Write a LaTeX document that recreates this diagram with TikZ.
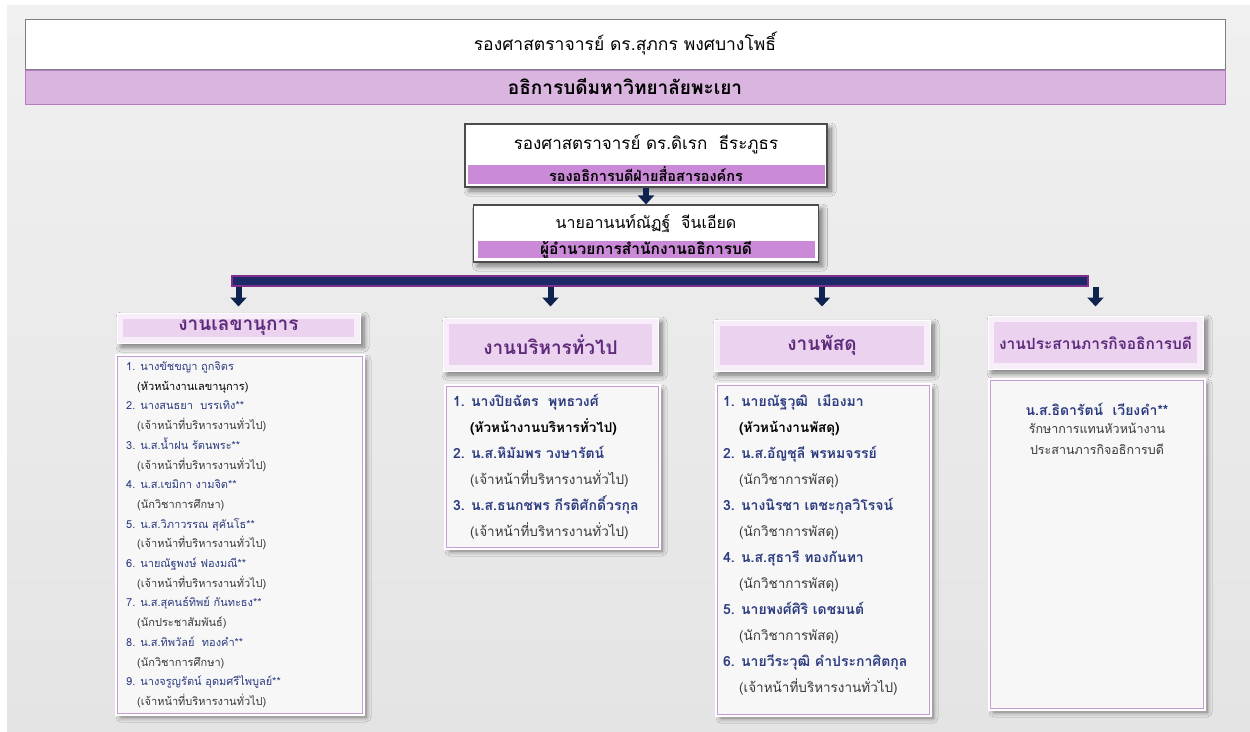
\documentclass[tikz,border=0pt]{standalone}
\usepackage{fontspec}
\newfontfamily\thaifont[Script=Thai]{Loma}
\usetikzlibrary{positioning,arrows.meta,shadows,shadows.blur}

\definecolor{bgtop}{HTML}{F0F0F0}
\definecolor{bgbot}{HTML}{E4E4E4}
\definecolor{bandlight}{HTML}{D9B5DF}
\definecolor{bandline}{HTML}{B57BC4}
\definecolor{bandmid}{HTML}{CB8AD7}
\definecolor{barnavy}{HTML}{1E2A68}
\definecolor{barline}{HTML}{7E2F8E}
\definecolor{arrownavy}{HTML}{0F2250}
\definecolor{hdrouter}{HTML}{F8EEFA}
\definecolor{hdrinner}{HTML}{EBD3F0}
\definecolor{hdrtext}{HTML}{5E2A7C}
\definecolor{namecol}{HTML}{2D3C80}
\definecolor{jobcol}{HTML}{3A3A3A}
\definecolor{listline}{HTML}{C79BD3}
\definecolor{listfill}{HTML}{F7F7F7}

\tikzset{
    softshadow/.style = {
        blur shadow={shadow blur steps=8, shadow xshift=4pt,
        shadow yshift=-4pt, shadow opacity=50, shadow blur radius=5pt}
    },
    rectorbox/.style = {
        draw=black!50,
        fill=white,
        line width=1pt,
        font=\thaifont\fontsize{17.5}{20}\selectfont
    },
    rectorband/.style = {
        draw=bandline,
        fill=bandlight,
        line width=1pt,
        font=\thaifont\bfseries\fontsize{19}{22}\selectfont
    },
    deanbox/.style = {
        draw=black!70,
        fill=white,
        line width=1.2pt,
        softshadow
    },
    deanname/.style = {
        inner sep=0pt,
        font=\thaifont\fontsize{17}{20}\selectfont
    },
    rankband/.style = {
        fill=bandmid,
        inner sep=0pt,
        font=\thaifont\bfseries\fontsize{14.5}{16}\selectfont
    },
    linkbar/.style = {
        draw=barline,
        fill=barnavy,
        line width=1.2pt,
        inner sep=0pt
    },
    fatarrow/.style = {
        draw=arrownavy,
        line width=6pt,
        -{Triangle[width=16pt, length=9pt]}
    },
    unithead/.style = {
        draw=white,
        fill=hdrouter,
        line width=1pt,
        softshadow,
        text=hdrtext,
        font=\thaifont\bfseries\fontsize{19}{22}\selectfont,
        path picture={
            \fill[hdrinner] ([shift={(6pt,-6pt)}]path picture bounding box.north west)
            rectangle ([shift={(-6pt,6pt)}]path picture bounding box.south east);
        }
    },
    listbox/.style = {
        draw=listline,
        fill=listfill,
        line width=1pt,
        softshadow,
        preaction={draw=white, line width=5pt}
    },
    smallwho/.style = {
        anchor=west, inner sep=0pt, text height=8pt, text depth=3pt,
        text=namecol, font=\thaifont\fontsize{11}{13}\selectfont
    },
    smalljob/.style = {
        anchor=west, inner sep=0pt, text height=8pt, text depth=3pt,
        text=jobcol, font=\thaifont\fontsize{11}{13}\selectfont
    },
    bigwho/.style = {
        anchor=west, inner sep=0pt, text height=11pt, text depth=4pt,
        text=namecol, font=\thaifont\bfseries\fontsize{14}{17}\selectfont
    },
    bigjob/.style = {
        anchor=west, inner sep=0pt, text height=11pt, text depth=4pt,
        text=jobcol, font=\thaifont\fontsize{13.5}{16}\selectfont
    },
}

\begin{document}
\begin{tikzpicture}[x=1pt, y=-1pt]
    \useasboundingbox (0,0) rectangle (1250,731);
    \fill[white] (0,0) rectangle (1250,731);
    \shade[top color=bgtop, bottom color=bgbot] (7,5) rectangle (1250,731);

    % top of the chart
    \node[rectorbox, minimum width=1200pt, minimum height=50pt] (rector) at (625,44)
        {รองศาสตราจารย์ ดร.สุภกร พงศบางโพธิ์};
    \node[rectorband, minimum width=1200pt, minimum height=34pt, below=0pt of rector]
        (rectorpos) {อธิการบดีมหาวิทยาลัยพะเยา};

    \node[deanbox, minimum width=362pt, minimum height=63pt] (vice) at (646,155.5) {};
    \node[deanname] (vicename) at (646,144) {รองศาสตราจารย์ ดร.ดิเรก~ ธีระภูธร};
    \node[rankband, minimum width=357pt, minimum height=19pt] (vicepos) at (646,174.5)
        {รองอธิการบดีฝ่ายสื่อสารองค์กร};

    \node[deanbox, minimum width=345pt, minimum height=57pt] (director) at (646,233.5) {};
    \node[deanname, font=\thaifont\fontsize{16}{19}\selectfont] (dirname) at (646,224)
        {นายอานนท์ณัฏฐ์~ จีนเอียด};
    \node[rankband, minimum width=337pt, minimum height=17pt, font=\thaifont\bfseries\fontsize{15.5}{17}\selectfont]
        (dirpos) at (646,249.5) {ผู้อำนวยการสำนักงานอธิการบดี};

    \draw[fatarrow] (vice) -- (director);

    \node[linkbar, minimum width=856pt, minimum height=10pt] (bar) at (660,281) {};

    % units
    \node[unithead, minimum width=243pt, minimum height=30pt] (hdr1) at (238.5,328) {งานเลขานุการ};
    \node[unithead, minimum width=215pt, minimum height=53pt] (hdr2) at (550.5,344.5) {งานบริหารทั่วไป};
    \node[unithead, minimum width=216pt, minimum height=51pt] (hdr3) at (822,345.5) {งานพัสดุ};
    \node[unithead, minimum width=215pt, minimum height=53pt, font=\thaifont\bfseries\fontsize{15.5}{18}\selectfont]
        (hdr4) at (1095.5,342.5) {งานประสานภารกิจอธิการบดี};

    \foreach \h/\s in {hdr1/6,hdr2/11,hdr3/13,hdr4/9}
        \draw[fatarrow, shorten >=\s pt] (bar.south -| \h.north) -- (\h.north);

    \node[listbox, minimum width=245pt, minimum height=357pt] (list1) at (239.5,534.5) {};
    \node[listbox, minimum width=212pt, minimum height=161pt] (list2) at (552,466.5) {};
    \node[listbox, minimum width=212pt, minimum height=329pt] (list3) at (823,549.5) {};
    \node[listbox, minimum width=213pt, minimum height=328pt] (list4) at (1096.5,544) {};

    % staff of each unit
    \foreach \who/\job [count=\i from 0] in {
        1. นางขัชขญา ถูกจิตร/{\color{black}(หัวหน้างานเลขานุการ)},
        2. นางสนธยา~ บรรเทิง**/(เจ้าหน้าที่บริหารงานทั่วไป),
        3. น.ส.น้ำฝน รัตนพระ**/(เจ้าหน้าที่บริหารงานทั่วไป),
        4. น.ส.เขมิกา งามจิต**/(นักวิชาการศึกษา),
        5. น.ส.วิภาวรรณ สุคันโธ**/(เจ้าหน้าที่บริหารงานทั่วไป),
        6. นายณัฐพงษ์ ฟองมณี**/(เจ้าหน้าที่บริหารงานทั่วไป),
        7. น.ส.สุคนธ์ทิพย์ กันทะธง**/(นักประชาสัมพันธ์),
        8. น.ส.ทิพวัลย์~ ทองคำ**/(นักวิชาการศึกษา),
        9. นางจรูญรัตน์ อุดมศรีไพบูลย์**/(เจ้าหน้าที่บริหารงานทั่วไป)} {
        \node[smallwho] (sec\i) at (126,368+39.4*\i) {\who};
        \node[smalljob] (secjob\i) at (137,387.7+39.4*\i) {\job};
    }

    \foreach \who/\job [count=\i from 0] in {
        1. นางปิยฉัตร~ พุทธวงศ์/{\bfseries\color{black}(หัวหน้างานบริหารทั่วไป)},
        2. น.ส.หิมัมพร วงษารัตน์/(เจ้าหน้าที่บริหารงานทั่วไป),
        3. น.ส.ธนกชพร กีรติศักดิ์วรกุล/(เจ้าหน้าที่บริหารงานทั่วไป)} {
        \node[bigwho] (adm\i) at (453,403+52*\i) {\who};
        \node[bigjob] (admjob\i) at (470,429+52*\i) {\job};
    }

    \foreach \who/\job [count=\i from 0] in {
        1. นายณัฐวุฒิ~ เมืองมา/{\bfseries\color{black}(หัวหน้างานพัสดุ)},
        2. น.ส.อัญชุลี พรหมจรรย์/(นักวิชาการพัสดุ),
        3. นางนิรชา เตชะกุลวิโรจน์/(นักวิชาการพัสดุ),
        4. น.ส.สุธารี ทองกันทา/(นักวิชาการพัสดุ),
        5. นายพงศ์ศิริ เดชมนต์/(นักวิชาการพัสดุ),
        6. นายวีระวุฒิ คำประกาศิตกุล/(เจ้าหน้าที่บริหารงานทั่วไป)} {
        \node[bigwho] (sup\i) at (723,403+52*\i) {\who};
        \node[bigjob] (supjob\i) at (739,429+52*\i) {\job};
    }

    \node[text=namecol, font=\thaifont\bfseries\fontsize{14}{16}\selectfont] (coordname) at (1097,409)
        {น.ส.ธิดารัตน์~ เวียงคำ**};
    \node[text=jobcol, font=\thaifont\fontsize{12.5}{21}\selectfont, align=center, below=1pt of coordname]
        (coordjob) {รักษาการแทนหัวหน้างาน\\ประสานภารกิจอธิการบดี};
\end{tikzpicture}
\end{document}
